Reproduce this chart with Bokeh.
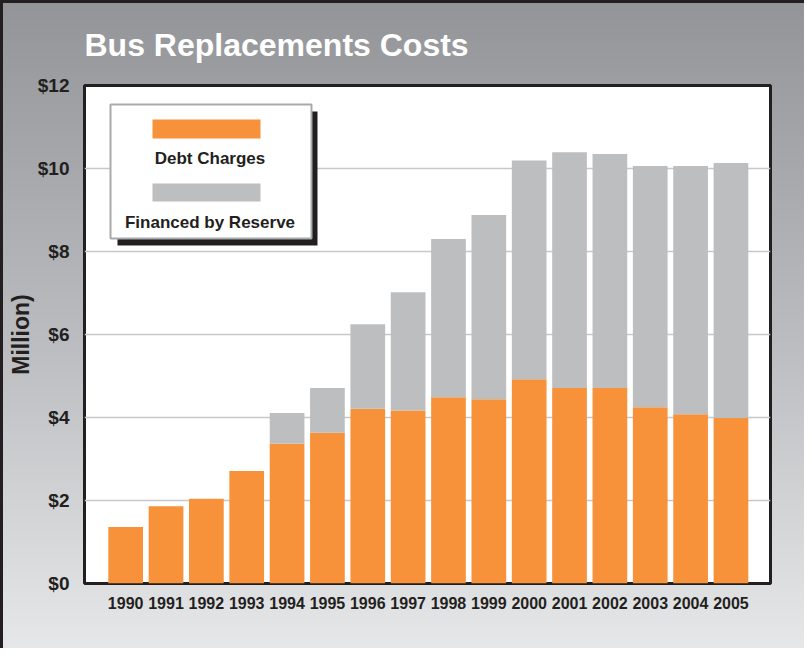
from bokeh.plotting import figure
from bokeh.models import (ColumnDataSource, Range1d, FixedTicker, PrintfTickFormatter,
                          BoxAnnotation, Label)
from bokeh.embed import file_html
from bokeh.resources import INLINE

# ---- data ----
years = [1990, 1991, 1992, 1993, 1994, 1995, 1996, 1997,
         1998, 1999, 2000, 2001, 2002, 2003, 2004, 2005]
year_labels = [str(y) for y in years]
debt_charges = [1.36, 1.86, 2.04, 2.71, 3.37, 3.63, 4.21, 4.17,
                4.49, 4.44, 4.92, 4.71, 4.71, 4.25, 4.08, 3.99]
financed_by_reserve = [0.0, 0.0, 0.0, 0.0, 0.74, 1.08, 2.04, 2.85,
                       3.81, 4.44, 5.27, 5.68, 5.64, 5.81, 5.98, 6.14]
series_names = ["Debt Charges", "Financed by Reserve"]
series_colors = ["#f7923a", "#bcbec0"]
y_ticks = [0, 2, 4, 6, 8, 10, 12]

DARK = "#231f20"
FONT = "Liberation Sans"

W, H = 804, 648
BL, BR, BT, BB = 84, 34, 85, 65
X0, X1 = 1988.98, 2005.98
Y0, Y1 = 0, 12
FW, FH = W - BL - BR, H - BT - BB


def dx(page_px):
    return X0 + (page_px - 8 - BL) * (X1 - X0) / FW


def dy(page_py):
    return Y1 - (page_py - 8 - BT) * (Y1 - Y0) / FH


src = ColumnDataSource(dict(year=years, debt=debt_charges, reserve=financed_by_reserve))

p = figure(width=W, height=H, output_backend="svg", toolbar_location=None,
           x_range=Range1d(X0, X1), y_range=Range1d(Y0, Y1),
           min_border_left=BL, min_border_right=BR, min_border_top=BT, min_border_bottom=BB)

p.styles = {"background": "linear-gradient(to bottom, #929497 0%, #bdbec1 55%, #e6e7e8 100%)",
            "box-shadow": "inset 3px 3px 0 #231f20"}
p.border_fill_color = None
p.background_fill_color = "white"
p.outline_line_color = DARK
p.outline_line_width = 3

p.vbar_stack(["debt", "reserve"], x="year", width=0.86, color=series_colors,
             line_color=None, source=src)

# title
p.title.text = "Bus Replacements Costs"
p.title.text_font = FONT
p.title.text_font_size = "32px"
p.title.text_font_style = "bold"
p.title.text_color = "white"
p.title.align = "left"
p.title.standoff = 45

# axes
p.xaxis.ticker = FixedTicker(ticks=years)
p.xaxis.major_label_overrides = {y: l for y, l in zip(years, year_labels)}
p.xaxis.major_label_text_font = FONT
p.xaxis.major_label_text_font_size = "16px"
p.xaxis.major_label_text_font_style = "bold"
p.xaxis.major_label_text_color = DARK
p.xaxis.major_label_standoff = 7

p.yaxis.ticker = FixedTicker(ticks=y_ticks)
p.yaxis.formatter = PrintfTickFormatter(format="$%d")
p.yaxis.major_label_text_font = FONT
p.yaxis.major_label_text_font_size = "19px"
p.yaxis.major_label_text_font_style = "bold"
p.yaxis.major_label_text_color = DARK
p.yaxis.major_label_standoff = 9
p.yaxis.axis_label = "Million)"
p.yaxis.axis_label_text_font = FONT
p.yaxis.axis_label_text_font_size = "23px"
p.yaxis.axis_label_text_font_style = "bold"
p.yaxis.axis_label_text_color = DARK
p.yaxis.axis_label_standoff = 1

for ax in (p.xaxis, p.yaxis):
    ax.axis_line_color = None
    ax.major_tick_line_color = None
    ax.minor_tick_line_color = None

p.xgrid.grid_line_color = None
p.ygrid.ticker = FixedTicker(ticks=y_ticks)
p.ygrid.grid_line_color = "#c7c8ca"
p.ygrid.grid_line_width = 1.5

# legend (manual)
p.add_layout(BoxAnnotation(left=dx(125), right=dx(325), top=dy(119), bottom=dy(253),
                           fill_color=DARK, fill_alpha=1, line_color=None))
p.add_layout(BoxAnnotation(left=dx(118), right=dx(319), top=dy(112), bottom=dy(246),
                           fill_color="white", fill_alpha=1, line_color="#a7a9ac",
                           line_alpha=1, line_width=2))
swatch_tops = [127, 191]
swatch_bottoms = [146, 209]
label_baselines = [166, 230]
for name, color, t, b, base in zip(series_names, series_colors, swatch_tops,
                                   swatch_bottoms, label_baselines):
    p.add_layout(BoxAnnotation(left=dx(160), right=dx(268), top=dy(t), bottom=dy(b),
                               fill_color=color, fill_alpha=1, line_color=None))
    p.add_layout(Label(x=dx(217.5), y=dy(base), text=name, text_align="center",
                       text_baseline="alphabetic", text_font=FONT, text_font_size="17px",
                       text_font_style="bold", text_color=DARK))

open("out.html", "w").write(file_html(p, INLINE))
